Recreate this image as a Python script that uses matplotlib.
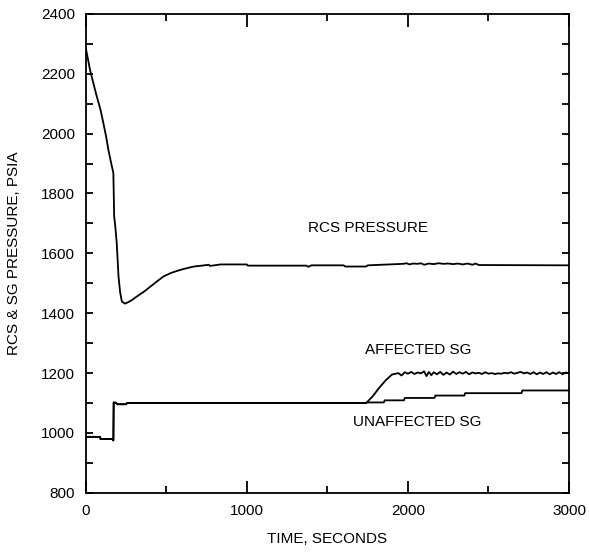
import matplotlib.pyplot as plt
from matplotlib.ticker import MultipleLocator

plt.rcParams['font.family'] = ['Liberation Sans', 'DejaVu Sans']

# RCS pressure (psia) vs time (s)
rcs_t = [0, 10, 25, 45, 67, 90, 108, 125, 139, 155, 170, 175, 182, 191, 202, 212, 223, 243,
         280, 316, 360, 400, 440, 482, 530, 587, 630, 670, 720, 763, 770, 836, 1000, 1005,
         1370, 1380, 1400, 1600, 1610, 1740, 1750,
         1970, 1990, 2010, 2030, 2060, 2080, 2100, 2130, 2160, 2190, 2220, 2250, 2280,
         2310, 2340, 2370, 2400, 2420, 2440, 3000]
rcs_p = [2282, 2255, 2213, 2170, 2124, 2080, 2035, 1990, 1946, 1905, 1868, 1723, 1690, 1634, 1523, 1470, 1439, 1432,
         1442, 1456, 1472, 1489, 1506, 1523, 1535, 1545, 1551, 1556, 1559, 1562, 1558, 1563, 1563, 1559,
         1559, 1555, 1560, 1560, 1556, 1556, 1560,
         1565, 1567, 1563, 1566, 1565, 1567, 1562, 1566, 1564, 1567, 1565, 1566, 1564,
         1566, 1563, 1566, 1562, 1566, 1561, 1560]

# affected steam generator
aff_t = [0, 87, 90, 165, 170, 172, 185, 195, 250, 254, 1740, 1780, 1820, 1860, 1900, 1940,
         1960, 1980, 2000, 2020, 2040, 2060, 2080, 2100, 2115, 2130, 2145, 2160, 2180, 2200,
         2220, 2240, 2260, 2280, 2300, 2320, 2340, 2360, 2380, 2400, 2420, 2440, 2460, 2480,
         2500, 2520, 2540, 2560, 2580, 2600, 2620, 2640, 2660, 2680, 2700, 2720, 2740, 2760,
         2780, 2800, 2820, 2840, 2860, 2880, 2900, 2920, 2940, 2960, 2980, 3000]
aff_p = [987, 987, 980, 980, 975, 1102, 1101, 1096, 1096, 1100, 1100, 1122, 1150, 1175, 1195, 1200,
         1192, 1203, 1198, 1204, 1197, 1202, 1199, 1206, 1190, 1204, 1193, 1203, 1196, 1204,
         1194, 1202, 1195, 1205, 1197, 1203, 1198, 1204, 1196, 1202, 1199, 1201, 1197, 1203,
         1198, 1200, 1197, 1199, 1198, 1201, 1199, 1203, 1198, 1201, 1204, 1199, 1202, 1197,
         1203, 1196, 1202, 1197, 1203, 1196, 1202, 1197, 1203, 1196, 1202, 1199]

# unaffected steam generator
unaff_t = [0, 87, 90, 165, 170, 172, 185, 195, 250, 254, 1740, 1745, 1850, 1855, 1975, 1980,
           2165, 2170, 2350, 2355, 2705, 2710, 3000]
unaff_p = [987, 987, 980, 980, 975, 1102, 1101, 1096, 1096, 1100, 1100, 1102, 1102, 1109, 1109, 1117,
           1117, 1125, 1125, 1133, 1133, 1142, 1142]

fig = plt.figure(figsize=(5.89, 5.55), dpi=100)
ax = fig.add_axes([0.146, 0.112, 0.82, 0.863])

ax.plot(rcs_t, rcs_p, color='black', lw=1.3)
ax.plot(aff_t, aff_p, color='black', lw=1.3)
ax.plot(unaff_t, unaff_p, color='black', lw=1.3)

ax.set_xlim(0, 3000)
ax.set_ylim(800, 2400)
ax.xaxis.set_major_locator(MultipleLocator(1000))
ax.xaxis.set_minor_locator(MultipleLocator(500))
ax.yaxis.set_major_locator(MultipleLocator(200))
ax.yaxis.set_minor_locator(MultipleLocator(100))
ax.tick_params(which='both', direction='in', top=True, right=True, width=1.3, labelsize=11, pad=8)
ax.tick_params(axis='x', which='major', length=9)
ax.tick_params(axis='x', which='minor', length=5)
ax.tick_params(axis='y', which='both', length=5)
for s in ax.spines.values():
    s.set_linewidth(1.3)

ax.text(1753, 1685, 'RCS PRESSURE', ha='center', va='center', fontsize=11)
ax.text(2063, 1277, 'AFFECTED SG', ha='center', va='center', fontsize=11)
ax.text(2059, 1036, 'UNAFFECTED SG', ha='center', va='center', fontsize=11)

ax.set_xlabel('TIME, SECONDS', fontsize=11, labelpad=10)
ax.set_ylabel('RCS & SG PRESSURE, PSIA', fontsize=11, labelpad=14)

plt.savefig('out.png', dpi=100)
